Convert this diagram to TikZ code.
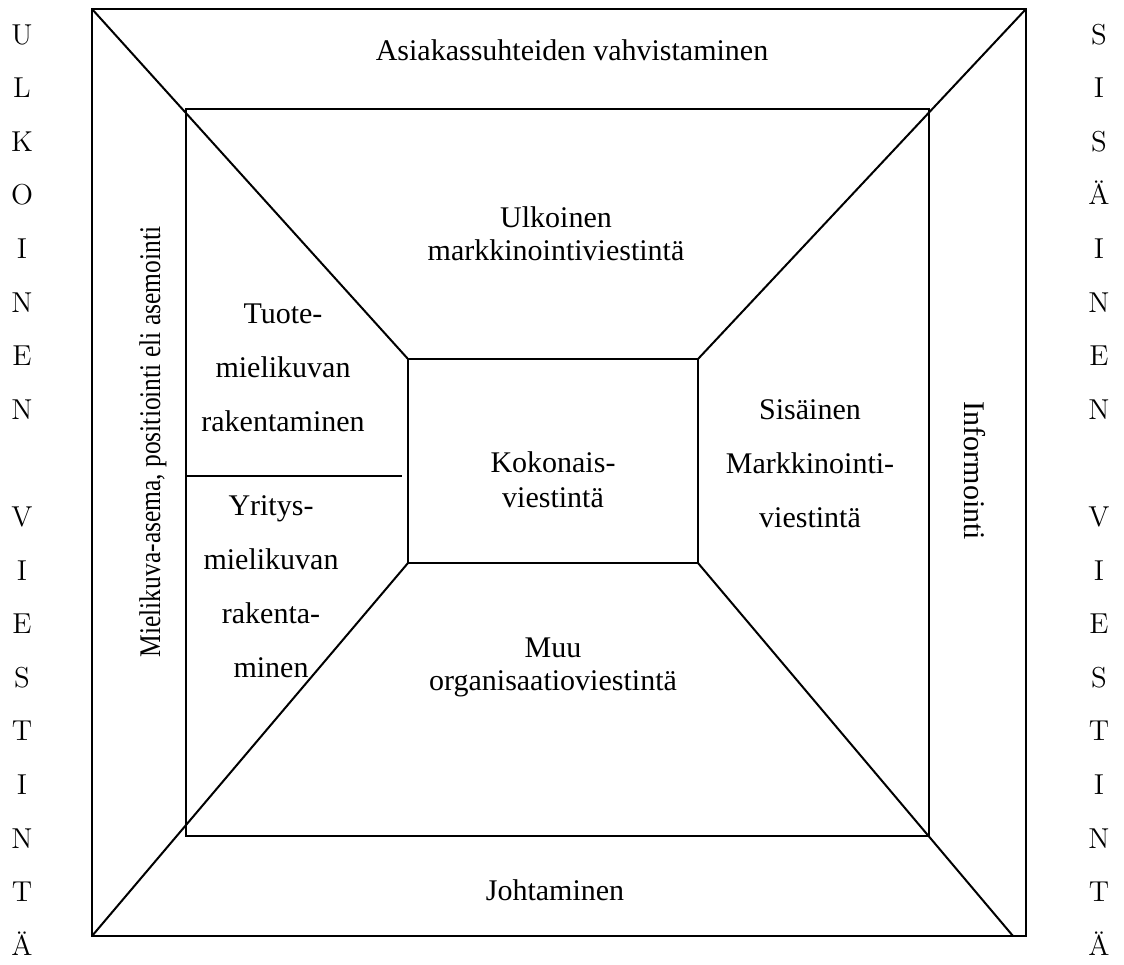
\documentclass[tikz,border=0pt]{standalone}
\usepackage{fontspec}
\newfontfamily\garafont{Liberation Serif}
\newfontfamily\narrowfont[FakeStretch=0.85]{Liberation Serif}
\usetikzlibrary{calc}

\begin{document}
\begin{tikzpicture}[x=0.5pt,y=-0.5pt,line width=1pt]
	\tikzset{
		lbl/.style={font=\garafont\fontsize{15}{27}\selectfont, align=center, inner sep=0pt},
		tight/.style={font=\garafont\fontsize{15}{16.5}\selectfont, align=center, inner sep=0pt},
		side/.style={font=\fontsize{14.4}{14.4}\selectfont, anchor=base, inner sep=0pt}
	}
	\useasboundingbox (0,0) rectangle (1124,964);
	% corners of the squares
	\coordinate (o1) at (92,9);    \coordinate (o2) at (1026,9);
	\coordinate (o3) at (1026,936); \coordinate (o4) at (92,936);
	\coordinate (i1) at (186,109); \coordinate (i3) at (929,836);
	\coordinate (c1) at (408,359); \coordinate (c2) at (698,359);
	\coordinate (c3) at (698,563); \coordinate (c4) at (408,563);
	\coordinate (e3) at (1013,936);
	\coordinate (d1) at (186,476); \coordinate (d2) at (402,476);
	\draw (o1) rectangle (o3);
	\draw (i1) rectangle (i3);
	\draw (c1) rectangle (c3);
	\draw (o1) -- (c1) (o2) -- (c2) (o4) -- (c4) (e3) -- (c3);
	\draw (d1) -- (d2);
	% labels
	\node[lbl] (asiakas) at (572,50) {Asiakassuhteiden vahvistaminen};
	\node[tight] (ulkoinen) at (556,234) {Ulkoinen\\markkinointiviestintä};
	\node[lbl] (tuote) at (283,368) {Tuote-\\mielikuvan\\rakentaminen};
	\node[lbl] (yritys) at (271,587) {Yritys-\\mielikuvan\\rakenta-\\minen};
	\node[tight, font=\garafont\fontsize{15}{17.5}\selectfont] (kokonais) at (553,480) {Kokonais-\\viestintä};
	\node[lbl] (sisainen) at (810,464) {Sisäinen\\Markkinointi-\\viestintä};
	\node[tight] (muu) at (553,667) {Muu\\organisaatioviestintä};
	\node[lbl] (johtaminen) at (555,890) {Johtaminen};
	\node[lbl, font=\narrowfont\fontsize{15}{16}\selectfont, rotate=90] (mielikuva) at (153,442) {Mielikuva-asema, positiointi eli asemointi};
	\node[lbl, rotate=-90] (informointi) at (975,471) {Informointi};
	% side letters
	\foreach \i/\c in {0/U,1/L,2/K,3/O,4/I,5/N,6/E,7/N,9/V,10/I,11/E,12/S,13/T,14/I,15/N,16/T,17/Ä}
		\node[side] (ul\i) at (22,44+53.6*\i) {\c};
	\foreach \i/\c in {0/S,1/I,2/S,3/Ä,4/I,5/N,6/E,7/N,9/V,10/I,11/E,12/S,13/T,14/I,15/N,16/T,17/Ä}
		\node[side] (si\i) at (1099,44+53.6*\i) {\c};
\end{tikzpicture}
\end{document}
